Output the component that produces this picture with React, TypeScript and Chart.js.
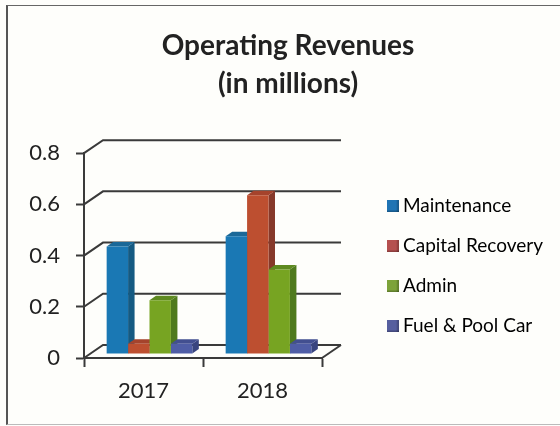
import React, { useEffect, useRef } from "react";
import { Chart, registerables } from "chart.js";

Chart.register(...registerables);

const categories = ["2017", "2018"];
const seriesNames = ["Maintenance", "Capital Recovery", "Admin", "Fuel & Pool Car"];
const maintenance = [0.42, 0.46];
const capitalRecovery = [0.04, 0.62];
const admin = [0.21, 0.33];
const fuelPoolCar = [0.04, 0.04];
const frontColors = ["#1a78b4", "#bd4f30", "#77a422", "#4f5da6"];
const sideColors = ["#155a82", "#86392a", "#4f7a1d", "#39457f"];
const topColors = ["#1a6898", "#a5432c", "#5e8a20", "#424f90"];
const legendColors = ["#1f74b4", "#b5504f", "#7da33a", "#565f9f"];
const titleLines = ["Operating Revenues", "(in millions)"];

const FONT = "Lato, Carlito, sans-serif";
const INK = "#222222";
const LINE = "#3a3a3a";
const PAPER = "#fefefb";
const WALL_DX = 19, WALL_DY = -13, BAR_DX = 6, BAR_DY = -4, DEPTH_DX = 6.5, DEPTH_DY = -4.5;

function swatch(color: string) {
  const c = document.createElement("canvas");
  c.width = 12; c.height = 12;
  const g = c.getContext("2d")!;
  g.fillStyle = color; g.fillRect(0, 0, 12, 12);
  g.fillStyle = "rgba(0,0,0,0.22)";
  g.fillRect(0, 10.5, 12, 1.5); g.fillRect(10.5, 0, 1.5, 12);
  return c;
}

const scene3d = {
  id: "scene3d",
  afterLayout(chart: any) {
    chart.titleBlock.left = 0; chart.titleBlock.right = 576;
    const lg = chart.legend;
    lg.left = 370.5; lg.right = 560; lg.top = 175.5; lg.bottom = 426;
  },
  beforeDatasetsDraw(chart: any) {
    const { ctx, chartArea: a, scales } = chart;
    ctx.save();
    ctx.strokeStyle = LINE; ctx.lineWidth = 2;
    scales.y.ticks.forEach((_: any, i: number) => {
      const p = scales.y.getPixelForTick(i);
      ctx.beginPath();
      ctx.moveTo(a.left, p);
      ctx.lineTo(a.left + WALL_DX, p + WALL_DY);
      ctx.lineTo(a.right + WALL_DX, p + WALL_DY);
      ctx.stroke();
    });
    ctx.beginPath();
    ctx.moveTo(a.right, a.bottom);
    ctx.lineTo(a.right + WALL_DX, a.bottom + WALL_DY);
    ctx.stroke();
    ctx.restore();
    ctx.save();
    ctx.translate(BAR_DX, BAR_DY);
    // Side and top faces go down left to right, then the library paints the fronts over them.
    chart.data.datasets.forEach((_: any, i: number) => {
      chart.getDatasetMeta(i).data.forEach((b: any) => {
        const l = b.x - b.width / 2, r = b.x + b.width / 2;
        ctx.fillStyle = sideColors[i];
        ctx.beginPath();
        ctx.moveTo(r, b.y); ctx.lineTo(r + DEPTH_DX, b.y + DEPTH_DY);
        ctx.lineTo(r + DEPTH_DX, b.base + DEPTH_DY); ctx.lineTo(r, b.base);
        ctx.closePath(); ctx.fill();
        ctx.fillStyle = topColors[i];
        ctx.beginPath();
        ctx.moveTo(l, b.y); ctx.lineTo(l + DEPTH_DX, b.y + DEPTH_DY);
        ctx.lineTo(r + DEPTH_DX, b.y + DEPTH_DY); ctx.lineTo(r, b.y);
        ctx.closePath(); ctx.fill();
      });
    });
  },
  afterDatasetsDraw(chart: any) {
    chart.ctx.restore();
  },
};

export default function App() {
  const ref = useRef<HTMLCanvasElement>(null);
  useEffect(() => {
    document.body.style.margin = "0";
    const values = [maintenance, capitalRecovery, admin, fuelPoolCar];
    const chart = new Chart(ref.current!, {
      type: "bar",
      data: {
        labels: categories,
        datasets: values.map((data, i) => ({
          label: seriesNames[i],
          data,
          backgroundColor: frontColors[i],
          borderWidth: 0,
          categoryPercentage: 0.72,
          barPercentage: 1,
          clip: false as any,
        })),
      },
      options: {
        animation: false,
        responsive: false,
        layout: { padding: { left: 0, right: 238, top: 0, bottom: 0 } },
        plugins: {
          tooltip: { enabled: false },
          title: {
            display: true,
            text: titleLines,
            color: INK,
            font: { family: FONT, size: 28, weight: "bold", lineHeight: 1.36 },
            padding: { top: 27, bottom: 50 },
          },
          legend: {
            position: "chartArea",
            align: "start",
            labels: {
              usePointStyle: true,
              pointStyleWidth: 2,
              boxHeight: 12,
              padding: 21,
              color: INK,
              font: { family: FONT, size: 19, lineHeight: 1 },
              generateLabels: () =>
                seriesNames.map((text, i) => ({
                  text,
                  datasetIndex: i,
                  fillStyle: legendColors[i],
                  strokeStyle: legendColors[i],
                  lineWidth: 0,
                  hidden: false,
                  pointStyle: swatch(legendColors[i]),
                })),
            },
          },
        },
        scales: {
          x: {
            afterFit: (s: any) => { s.height = 68; },
            border: { color: LINE, width: 2 },
            grid: { drawOnChartArea: false, tickLength: 9, tickWidth: 2, tickColor: LINE, offset: true },
            ticks: { color: INK, padding: 11, font: { family: FONT, size: 22 } },
          },
          y: {
            min: 0,
            max: 0.8,
            afterFit: (s: any) => { s.width = 84; },
            border: { color: LINE, width: 2 },
            grid: { drawOnChartArea: false, tickLength: 8, tickWidth: 2, tickColor: LINE },
            ticks: { stepSize: 0.2, color: INK, padding: 16, font: { family: FONT, size: 22 } },
          },
        },
      },
      plugins: [scene3d],
    } as any);
    return () => chart.destroy();
  }, []);
  return (
    <div style={{ position: "fixed", left: 0, top: 0, width: 560, height: 426, background: PAPER, overflow: "hidden" }}>
      <canvas ref={ref} width={560} height={426} style={{ display: "block" }} />
      <div style={{ position: "absolute", left: 6, top: 5, width: 560, height: 420, borderLeft: "2px solid #555", borderTop: "1.5px solid #666", borderBottom: "1px solid #bbb", boxSizing: "border-box" }} />
    </div>
  );
}
